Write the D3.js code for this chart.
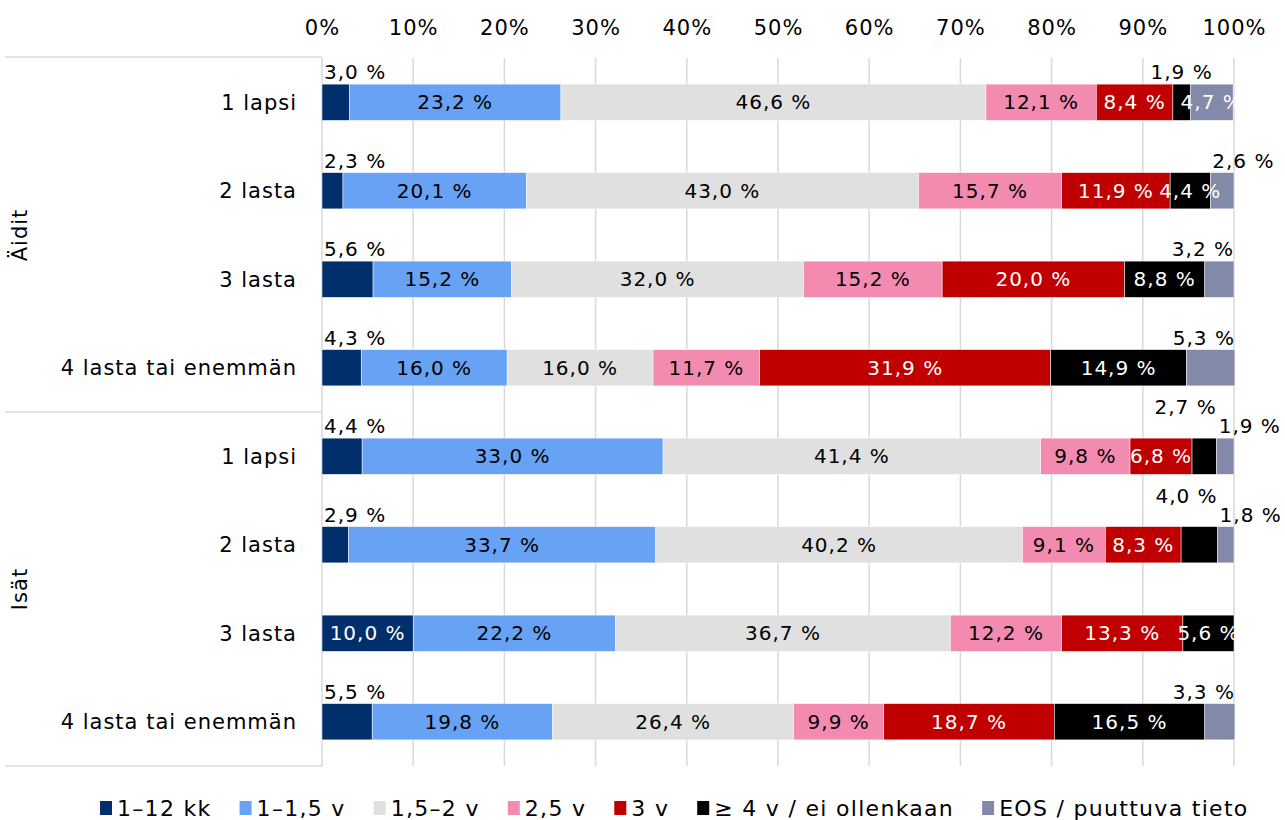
<!DOCTYPE html>
<html>
  <head>
    <meta charset="utf-8" />
    <title>Vanhempainvapaat lapsiluvun mukaan</title>
    <script src="https://cdn.jsdelivr.net/npm/d3@7"></script>
    <style>
      body { margin: 0; background: #fff; }
      text { font-family: "DejaVu Sans", sans-serif; letter-spacing: 1px; }
    </style>
  </head>

  <body>
    <svg width="1285" height="820"></svg>

    <script type="text/javascript">
      // data (percent)
      var groups = ["Äidit", "Isät"];
      var rows = ["1 lapsi", "2 lasta", "3 lasta", "4 lasta tai enemmän"];
      var series = ["1–12 kk", "1–1,5 v", "1,5–2 v", "2,5 v", "3 v", "≥ 4 v / ei ollenkaan", "EOS / puuttuva tieto"];
      var aiditValues = [
        [3.0, 23.2, 46.6, 12.1, 8.4, 1.9, 4.7],
        [2.3, 20.1, 43.0, 15.7, 11.9, 4.4, 2.6],
        [5.6, 15.2, 32.0, 15.2, 20.0, 8.8, 3.2],
        [4.3, 16.0, 16.0, 11.7, 31.9, 14.9, 5.3]
      ];
      var isatValues = [
        [4.4, 33.0, 41.4, 9.8, 6.8, 2.7, 1.9],
        [2.9, 33.7, 40.2, 9.1, 8.3, 4.0, 1.8],
        [10.0, 22.2, 36.7, 12.2, 13.3, 5.6, 0],
        [5.5, 19.8, 26.4, 9.9, 18.7, 16.5, 3.3]
      ];
      var xTicks = [0, 10, 20, 30, 40, 50, 60, 70, 80, 90, 100];

      var colors = ["#002f6c", "#68a2f4", "#e0e0e0", "#f38bb0", "#c00000", "#000000", "#8389a9"];
      var darkText = [true, false, false, false, true, true, true];

      // labels that Excel had moved above the bar: [anchor, level]
      var outside = {
        "0-0-0": ["start", 0], "0-0-5": ["middle", 0],
        "0-1-0": ["start", 0], "0-1-6": ["start", 0],
        "0-2-0": ["start", 0], "0-2-6": ["end", 0],
        "0-3-0": ["start", 0], "0-3-6": ["end", 0],
        "1-0-0": ["start", 0], "1-0-5": ["end", 1], "1-0-6": ["start", 0],
        "1-1-0": ["start", 0], "1-1-5": ["end", 1], "1-1-6": ["start", 0],
        "1-3-0": ["start", 0], "1-3-6": ["end", 0]
      };

      // build one record per bar
      var data = [];
      [aiditValues, isatValues].forEach(function (vals, g) {
        vals.forEach(function (v, r) {
          var obj = { key: g + "-" + r, g: g, r: r, name: rows[r] };
          series.forEach(function (s, i) { obj[s] = v[i]; });
          data.push(obj);
        });
      });

      var svg = d3.select("svg");
      svg.append("rect").attr("width", 1285).attr("height", 820).attr("fill", "#fff");

      var x = d3.scaleLinear().domain([0, 100]).range([322, 1234]);
      var y = d3.scaleBand().domain(data.map(function (d) { return d.key; }))
        .range([58, 766]).paddingInner(0.59).paddingOuter(0.295);
      var step = y.step();

      // grid
      svg.append("g").selectAll("line").data(xTicks).enter().append("line")
        .attr("x1", function (d) { return x(d); }).attr("x2", function (d) { return x(d); })
        .attr("y1", 58).attr("y2", 766)
        .style("stroke", "#d9d9d9").style("stroke-width", 1.5);

      // top axis labels
      var xAxis = svg.append("g").attr("transform", "translate(0,58)")
        .call(d3.axisTop(x).tickValues(xTicks).tickSize(0).tickPadding(23)
          .tickFormat(function (d) { return d + "%"; }));
      xAxis.select(".domain").remove();
      xAxis.selectAll("text").style("font-size", "21px").style("font-family", null).attr("fill", "#000");

      // category axis lines
      var catLines = [57, 58 + 4 * step, 766];
      svg.append("g").selectAll("line").data(catLines).enter().append("line")
        .attr("x1", 5).attr("x2", 322)
        .attr("y1", function (d) { return d; }).attr("y2", function (d) { return d; })
        .style("stroke", "#d9d9d9").style("stroke-width", 1.5);

      svg.append("g").selectAll("text").data(data).enter().append("text")
        .attr("x", 297)
        .attr("y", function (d) { return y(d.key) + y.bandwidth() / 2; })
        .attr("dy", "0.36em")
        .attr("text-anchor", "end")
        .style("font-size", "21px")
        .text(function (d) { return d.name; });

      svg.append("g").selectAll("text").data(groups).enter().append("text")
        .attr("transform", function (d, i) {
          return "translate(27," + (58 + (i * 4 + 2) * step) + ") rotate(-90)";
        })
        .attr("text-anchor", "middle")
        .style("font-size", "21px")
        .text(function (d) { return d; });

      // bars
      var stacked = d3.stack().keys(series)(data);
      var fmt = function (v) { return d3.format(".1f")(v).replace(".", ",") + " %"; };

      svg.append("clipPath").attr("id", "plotclip")
        .append("rect").attr("x", 300).attr("y", 0).attr("width", 936).attr("height", 820);

      var layer = svg.append("g").selectAll("g").data(stacked).enter().append("g")
        .attr("fill", function (d, i) { return colors[i]; });

      layer.selectAll("rect").data(function (d) { return d; }).enter().append("rect")
        .attr("x", function (d) { return x(d[0]); })
        .attr("y", function (d) { return y(d.data.key); })
        .attr("width", function (d) { return Math.max(0, x(d[1]) - x(d[0])); })
        .attr("height", y.bandwidth())
        .style("stroke", "#fff").style("stroke-width", 0.5);

      // data labels
      var labels = [];
      stacked.forEach(function (s, i) {
        s.forEach(function (d) {
          var v = d.data[s.key];
          if (!v) return;
          labels.push({ i: i, d: d, v: v, place: outside[d.data.key + "-" + i] });
        });
      });

      var inside = svg.append("g").attr("clip-path", "url(#plotclip)");
      inside.selectAll("text").data(labels.filter(function (l) { return !l.place; })).enter().append("text")
        .attr("x", function (l) { return (x(l.d[0]) + x(l.d[1])) / 2; })
        .attr("y", function (l) { return y(l.d.data.key) + y.bandwidth() / 2; })
        .attr("dy", "0.36em")
        .attr("text-anchor", "middle")
        .attr("fill", function (l) { return darkText[l.i] ? "#fff" : "#000"; })
        .style("font-size", "20px")
        .text(function (l) { return fmt(l.v); });

      svg.append("g").selectAll("text").data(labels.filter(function (l) { return l.place; })).enter().append("text")
        .attr("x", function (l) {
          var a = l.place[0];
          if (a === "start") return x(l.d[0]) + 2;
          if (a === "end") return x(l.d[1]);
          return (x(l.d[0]) + x(l.d[1])) / 2;
        })
        .attr("y", function (l) { return y(l.d.data.key) - 5 - l.place[1] * 19; })
        .attr("text-anchor", "start")
        .attr("text-anchor", function (l) { return l.place[0]; })
        .attr("fill", "#000")
        .style("font-size", "20px")
        .text(function (l) { return fmt(l.v); });

      // legend
      var legend = svg.append("g").attr("transform", "translate(0,808)");
      var item = legend.selectAll("g").data(series).enter().append("g");
      item.append("rect").attr("y", -7).attr("width", 12).attr("height", 14)
        .attr("fill", function (d, i) { return colors[i]; });
      item.append("text").attr("x", 17).attr("dy", "0.36em")
        .style("font-size", "22px").style("letter-spacing", "1.3px")
        .text(function (d) { return d; });
      var xpos = 100;
      item.attr("transform", function () {
        var t = "translate(" + xpos + ",0)";
        xpos += this.querySelector("text").getComputedTextLength() + 17 + 28;
        return t;
      });
    </script>
  </body>
</html>
